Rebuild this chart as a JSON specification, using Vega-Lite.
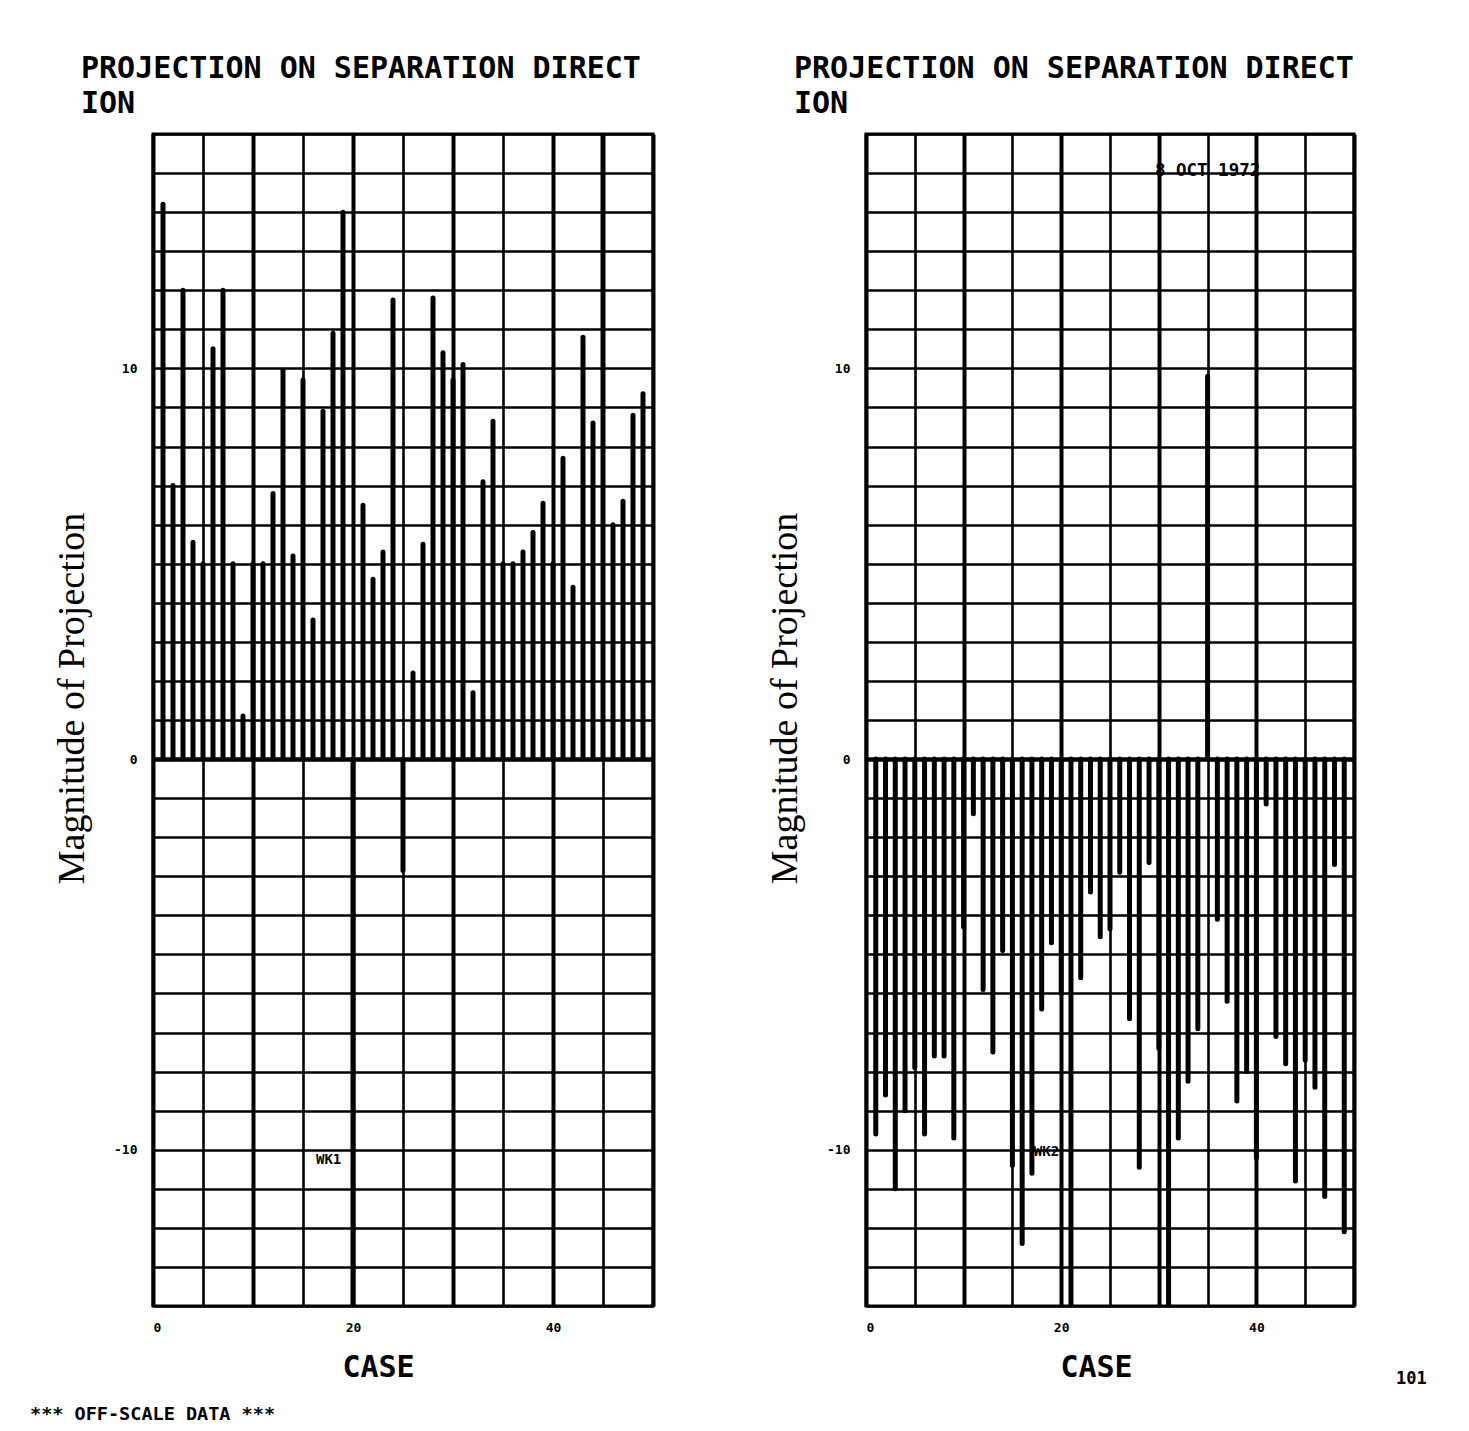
{
  "$schema": "https://vega.github.io/schema/vega-lite/v6.json",
  "background": "white",
  "padding": {"left": 28, "top": 52, "right": 0, "bottom": 0},
  "spacing": 110,
  "datasets": {
    "left": [
      {"case": 1, "value": 14.2}, {"case": 2, "value": 7.0}, {"case": 3, "value": 12.0}, {"case": 4, "value": 5.55},
      {"case": 5, "value": 5.0}, {"case": 6, "value": 10.5}, {"case": 7, "value": 12.0}, {"case": 8, "value": 5.0},
      {"case": 9, "value": 1.1}, {"case": 10, "value": 5.0}, {"case": 11, "value": 5.0}, {"case": 12, "value": 6.8},
      {"case": 13, "value": 9.95}, {"case": 14, "value": 5.2}, {"case": 15, "value": 9.7}, {"case": 16, "value": 3.56},
      {"case": 17, "value": 8.9}, {"case": 18, "value": 10.9}, {"case": 19, "value": 14.0}, {"case": 20, "value": -18},
      {"case": 21, "value": 6.5}, {"case": 22, "value": 4.6}, {"case": 23, "value": 5.3}, {"case": 24, "value": 11.75},
      {"case": 25, "value": -2.85}, {"case": 26, "value": 2.2}, {"case": 27, "value": 5.5}, {"case": 28, "value": 11.8},
      {"case": 29, "value": 10.4}, {"case": 30, "value": 9.7}, {"case": 31, "value": 10.1}, {"case": 32, "value": 1.7},
      {"case": 33, "value": 7.1}, {"case": 34, "value": 8.65}, {"case": 35, "value": 5.0}, {"case": 36, "value": 5.0},
      {"case": 37, "value": 5.3}, {"case": 38, "value": 5.8}, {"case": 39, "value": 6.55}, {"case": 40, "value": 5.0},
      {"case": 41, "value": 7.7}, {"case": 42, "value": 4.4}, {"case": 43, "value": 10.8}, {"case": 44, "value": 8.6},
      {"case": 45, "value": 18}, {"case": 46, "value": 6.0}, {"case": 47, "value": 6.6}, {"case": 48, "value": 8.8},
      {"case": 49, "value": 9.35}
    ],
    "right": [
      {"case": 1, "value": -9.6}, {"case": 2, "value": -8.6}, {"case": 3, "value": -11.0}, {"case": 4, "value": -9.0},
      {"case": 5, "value": -7.9}, {"case": 6, "value": -9.6}, {"case": 7, "value": -7.6}, {"case": 8, "value": -7.6},
      {"case": 9, "value": -9.7}, {"case": 10, "value": -4.3}, {"case": 11, "value": -1.4}, {"case": 12, "value": -5.9},
      {"case": 13, "value": -7.5}, {"case": 14, "value": -4.9}, {"case": 15, "value": -10.4}, {"case": 16, "value": -12.4},
      {"case": 17, "value": -10.6}, {"case": 18, "value": -6.4}, {"case": 19, "value": -4.7}, {"case": 20, "value": -6.0},
      {"case": 21, "value": -18}, {"case": 22, "value": -5.6}, {"case": 23, "value": -3.4}, {"case": 24, "value": -4.55},
      {"case": 25, "value": -4.35}, {"case": 26, "value": -2.9}, {"case": 27, "value": -6.65}, {"case": 28, "value": -10.45},
      {"case": 29, "value": -2.65}, {"case": 30, "value": -7.4}, {"case": 31, "value": -18}, {"case": 32, "value": -9.7},
      {"case": 33, "value": -8.25}, {"case": 34, "value": -6.9}, {"case": 35, "value": 9.8}, {"case": 36, "value": -4.1},
      {"case": 37, "value": -6.2}, {"case": 38, "value": -8.75}, {"case": 39, "value": -8.0}, {"case": 40, "value": -10.2},
      {"case": 41, "value": -1.15}, {"case": 42, "value": -7.1}, {"case": 43, "value": -7.8}, {"case": 44, "value": -10.8},
      {"case": 45, "value": -7.7}, {"case": 46, "value": -8.4}, {"case": 47, "value": -11.2}, {"case": 48, "value": -2.7},
      {"case": 49, "value": -12.1}
    ],
    "leftMarker": [{"case": 16.3, "value": -10.25, "label": "WK1"}],
    "leftFooter": [{"case": -12.3, "value": -16.77, "label": "*** OFF-SCALE DATA ***"}],
    "rightMarker": [{"case": 17.2, "value": -10.05, "label": "WK2"}],
    "rightDate": [{"case": 29.6, "value": 15.05, "label": "8 OCT 1972"}],
    "rightPage": [{"case": 54.3, "value": -15.88, "label": "101"}]
  },
  "hconcat": [
    {
      "width": 500,
      "height": 1172,
      "title": {"text": "PROJECTION ON SEPARATION DIRECT", "subtitle": "ION", "anchor": "start", "frame": "group", "dx": -72, "font": "DejaVu Sans Mono", "fontSize": 30, "fontWeight": "bold", "subtitleFont": "DejaVu Sans Mono", "subtitleFontSize": 30, "subtitleFontWeight": "bold", "subtitleColor": "black", "subtitlePadding": 5, "offset": 15, "color": "black"},
      "layer": [
        {
          "data": {"name": "left"},
          "mark": {"type": "rule", "strokeWidth": 5, "strokeCap": "round", "clip": true, "color": "black"},
          "encoding": {
            "x": {"field": "case", "type": "quantitative", "title": "CASE", "scale": {"domain": [0, 50], "nice": false, "zero": false},
              "axis": {"values": [0, 5, 10, 15, 20, 25, 30, 35, 40, 45, 50], "tickCount": 20, "titleX": 225, "labelExpr": "datum.value == 0 ? '0' : datum.value == 20 ? '20' : datum.value == 40 ? '40' : ''",
                "gridWidth": {"condition": {"test": "datum.value % 10 == 0", "value": 4}, "value": 2.6}}},
            "y": {"field": "value", "type": "quantitative", "title": "Magnitude of Projection", "scale": {"domain": [-14, 16], "nice": false, "zero": false},
              "axis": {"values": [-14, -13, -12, -11, -10, -9, -8, -7, -6, -5, -4, -3, -2, -1, 0, 1, 2, 3, 4, 5, 6, 7, 8, 9, 10, 11, 12, 13, 14, 15, 16],
                "tickCount": 40, "titleY": 564,
                "labelExpr": "datum.value == 10 ? '10' : datum.value == 0 ? '0' : datum.value == -10 ? '-10' : ''",
                "gridWidth": {"condition": {"test": "datum.value == 0", "value": 4.5}, "value": 2.6}}},
            "y2": {"datum": 0}
          }
        },
        {
          "data": {"name": "leftMarker"},
          "mark": {"type": "text", "align": "left", "baseline": "middle", "font": "DejaVu Sans Mono", "fontSize": 14, "fontWeight": "bold", "color": "black"},
          "encoding": {"x": {"field": "case", "type": "quantitative"}, "y": {"field": "value", "type": "quantitative"}, "text": {"field": "label"}}
        },
        {
          "data": {"name": "leftFooter"},
          "mark": {"type": "text", "align": "left", "baseline": "middle", "font": "DejaVu Sans Mono", "fontSize": 18.5, "fontWeight": "bold", "color": "black"},
          "encoding": {"x": {"field": "case", "type": "quantitative"}, "y": {"field": "value", "type": "quantitative"}, "text": {"field": "label"}}
        }
      ]
    },
    {
      "width": 488,
      "height": 1172,
      "title": {"text": "PROJECTION ON SEPARATION DIRECT", "subtitle": "ION", "anchor": "start", "frame": "group", "dx": -72, "font": "DejaVu Sans Mono", "fontSize": 30, "fontWeight": "bold", "subtitleFont": "DejaVu Sans Mono", "subtitleFontSize": 30, "subtitleFontWeight": "bold", "subtitleColor": "black", "subtitlePadding": 5, "offset": 15, "color": "black"},
      "layer": [
        {
          "data": {"name": "right"},
          "mark": {"type": "rule", "strokeWidth": 5, "strokeCap": "round", "clip": true, "color": "black"},
          "encoding": {
            "x": {"field": "case", "type": "quantitative", "title": "CASE", "scale": {"domain": [0, 50], "nice": false, "zero": false},
              "axis": {"values": [0, 5, 10, 15, 20, 25, 30, 35, 40, 45, 50], "tickCount": 20, "titleX": 230, "labelExpr": "datum.value == 0 ? '0' : datum.value == 20 ? '20' : datum.value == 40 ? '40' : ''",
                "gridWidth": {"condition": {"test": "datum.value % 10 == 0", "value": 4}, "value": 2.6}}},
            "y": {"field": "value", "type": "quantitative", "title": "Magnitude of Projection", "scale": {"domain": [-14, 16], "nice": false, "zero": false},
              "axis": {"values": [-14, -13, -12, -11, -10, -9, -8, -7, -6, -5, -4, -3, -2, -1, 0, 1, 2, 3, 4, 5, 6, 7, 8, 9, 10, 11, 12, 13, 14, 15, 16],
                "tickCount": 40, "titleY": 564,
                "labelExpr": "datum.value == 10 ? '10' : datum.value == 0 ? '0' : datum.value == -10 ? '-10' : ''",
                "gridWidth": {"condition": {"test": "datum.value == 0", "value": 4.5}, "value": 2.6}}},
            "y2": {"datum": 0}
          }
        },
        {
          "data": {"name": "rightMarker"},
          "mark": {"type": "text", "align": "left", "baseline": "middle", "font": "DejaVu Sans Mono", "fontSize": 14, "fontWeight": "bold", "color": "black"},
          "encoding": {"x": {"field": "case", "type": "quantitative"}, "y": {"field": "value", "type": "quantitative"}, "text": {"field": "label"}}
        },
        {
          "data": {"name": "rightDate"},
          "mark": {"type": "text", "align": "left", "baseline": "middle", "font": "DejaVu Sans Mono", "fontSize": 17.5, "fontWeight": "bold", "color": "black"},
          "encoding": {"x": {"field": "case", "type": "quantitative"}, "y": {"field": "value", "type": "quantitative"}, "text": {"field": "label"}}
        },
        {
          "data": {"name": "rightPage"},
          "mark": {"type": "text", "align": "left", "baseline": "middle", "font": "DejaVu Sans Mono", "fontSize": 17, "fontWeight": "bold", "color": "black"},
          "encoding": {"x": {"field": "case", "type": "quantitative"}, "y": {"field": "value", "type": "quantitative"}, "text": {"field": "label"}}
        }
      ]
    }
  ],
  "config": {
    "view": {"stroke": "black", "strokeWidth": 3},
    "axis": {
      "grid": true, "gridColor": "black", "gridOpacity": 1, "domain": false, "ticks": false,
      "labelColor": "black", "labelFont": "DejaVu Sans Mono", "labelFontSize": 13, "labelFontWeight": "bold",
      "titleColor": "black"
    },
    "axisX": {"labelPadding": 15, "titleFont": "DejaVu Sans Mono", "titleFontSize": 30, "titleFontWeight": "bold", "titlePadding": 18},
    "axisY": {"labelPadding": 16, "titleFont": "Liberation Serif", "titleFontSize": 38, "titleFontWeight": "normal", "titlePadding": 22}
  }
}
